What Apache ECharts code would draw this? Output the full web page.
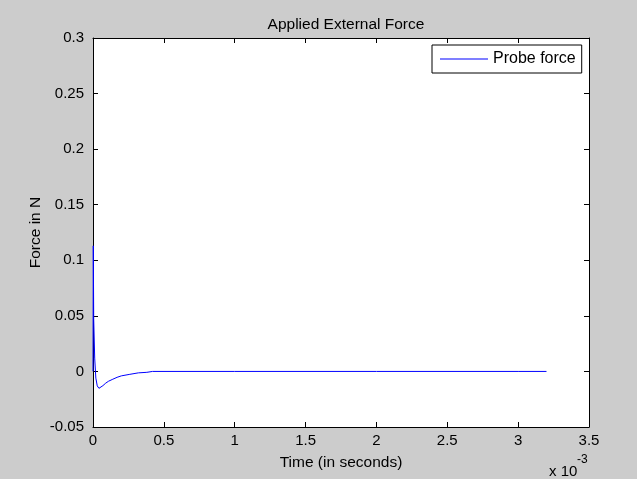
<!DOCTYPE html>
<html><head><meta charset="utf-8">
<script src="https://cdn.jsdelivr.net/npm/echarts@6/dist/echarts.min.js"></script>
<style>html,body{margin:0;padding:0;background:#cccccc;}#c{width:637px;height:479px;}</style>
</head><body><div id="c"></div>
<script>
// time in units of 1e-3 s
var timeMs = [0, 0.002, 0.005, 0.012, 0.02, 0.03, 0.042, 0.055, 0.07, 0.09, 0.11, 0.14, 0.17, 0.2, 0.26, 0.32, 0.38, 0.42, 1, 2, 3, 3.2];
var force = [0, 0.113, 0.047, 0.012, -0.006, -0.013, -0.0152, -0.0145, -0.0128, -0.0105, -0.0088, -0.007, -0.0053, -0.004, -0.0026, -0.0013, -0.0008, 0, 0, 0, 0, 0];
var seriesName = 'Probe force';
var titleText = 'Applied External Force';
var xName = 'Time (in seconds)';
var yName = 'Force in N';

var FONT = 'Liberation Sans, Arial, Helvetica, sans-serif';
var FS = 15;
var FS2 = 15.5;
var chart = echarts.init(document.getElementById('c'), null, {renderer: 'canvas'});
function fmt(v){ return String(parseFloat(v.toFixed(4))); }
var axisCommon = {
  axisLine: {show: true, onZero: false, lineStyle: {color: '#000', width: 1}},
  axisTick: {show: true, inside: true, length: 5, lineStyle: {color: '#000'}},
  splitLine: {show: false},
  axisLabel: {color: '#000', fontFamily: FONT, fontSize: FS}
};
var data = timeMs.map(function(t, i){ return [t, force[i]]; });
chart.setOption({
  backgroundColor: '#cccccc',
  animation: false,
  title: {text: titleText, left: 341, top: 12, textAlign: 'center',
    textStyle: {color: '#000', fontWeight: 'normal', fontFamily: FONT, fontSize: FS2}},
  grid: {left: 93, top: 38, right: 48, bottom: 52, show: true, backgroundColor: '#fff', borderWidth: 0},
  legend: {show: true, left: 432, top: 45, orient: 'vertical',
    backgroundColor: '#fff', borderColor: '#000', borderWidth: 1, borderRadius: 0,
    padding: [6, 6, 6, 8], itemWidth: 48, itemHeight: 14, itemGap: 0,
    itemStyle: {color: '#0000ff', borderWidth: 0},
    textStyle: {color: '#000', fontFamily: FONT, fontSize: 16},
    data: [{name: seriesName, icon: 'path://M0,0L48,0L48,1L0,1Z', itemStyle: {color: '#0000ff', borderWidth: 0}}]},
  xAxis: [
    Object.assign({}, axisCommon, {type: 'value', min: 0, max: 3.5, interval: 0.5, position: 'bottom',
      axisLabel: Object.assign({}, axisCommon.axisLabel, {margin: 6, formatter: fmt}),
      name: xName, nameLocation: 'middle', nameGap: 28, nameMoveOverlap: false,
      nameTextStyle: {color: '#000', fontFamily: FONT, fontSize: FS2}}),
    Object.assign({}, axisCommon, {type: 'value', min: 0, max: 3.5, interval: 0.5, position: 'top',
      axisLabel: {show: false}})
  ],
  yAxis: [
    Object.assign({}, axisCommon, {type: 'value', min: -0.05, max: 0.3, interval: 0.05, position: 'left',
      axisLabel: Object.assign({}, axisCommon.axisLabel, {margin: 9, formatter: fmt}),
      name: yName, nameLocation: 'middle', nameGap: 49, nameMoveOverlap: false,
      nameTextStyle: {color: '#000', fontFamily: FONT, fontSize: FS2}}),
    Object.assign({}, axisCommon, {type: 'value', min: -0.05, max: 0.3, interval: 0.05, position: 'right',
      axisLabel: {show: false}})
  ],
  graphic: [
    {type: 'text', left: 549, top: 464, style: {text: 'x 10', fill: '#000', font: FS + 'px ' + FONT}},
    {type: 'text', left: 577, top: 454, style: {text: '-3', fill: '#000', font: (FS - 3) + 'px ' + FONT}}
  ],
  series: [{
    name: seriesName, type: 'line', data: data, showSymbol: false, symbol: 'none',
    lineStyle: {color: '#0000ff', width: 1}, itemStyle: {color: '#0000ff'}
  }]
});
</script></body></html>
